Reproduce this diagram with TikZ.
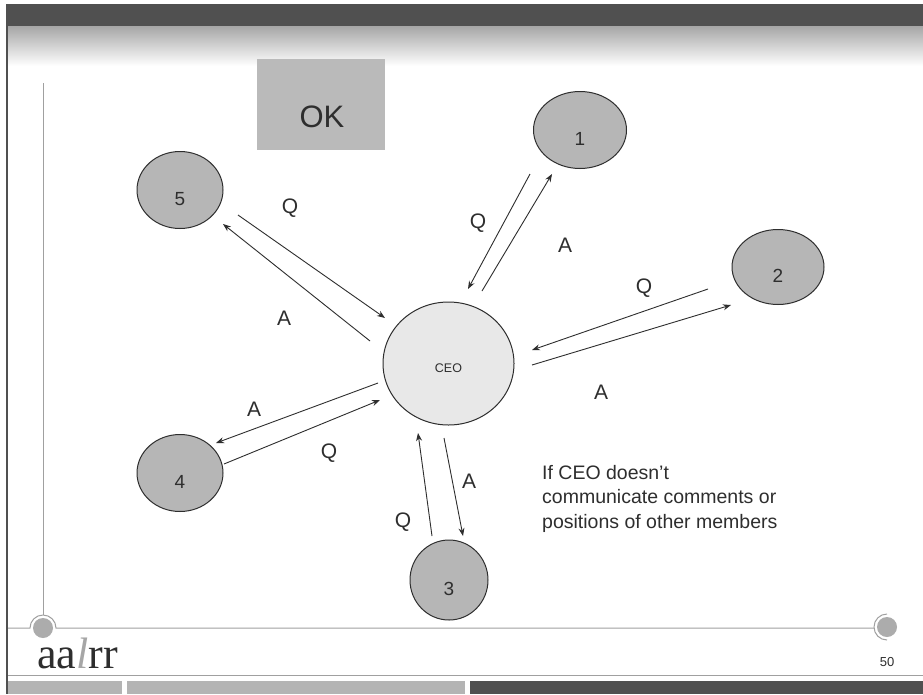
\documentclass[tikz,border=0pt]{standalone}
\usepackage{fontspec}
\setmainfont{Liberation Sans}
\newfontfamily\logofont{Liberation Serif}
\usetikzlibrary{shapes.geometric,arrows.meta}
\definecolor{banddark}{HTML}{505050}
\definecolor{bandlight}{HTML}{B4B4B4}
\definecolor{membfill}{HTML}{B6B6B6}
\definecolor{ceofill}{HTML}{E8E8E8}
\definecolor{okfill}{HTML}{BABABA}
\definecolor{inkc}{HTML}{2E2E2E}
\definecolor{decoline}{HTML}{A0A0A0}
\begin{document}
\begin{tikzpicture}[x=1pt,y=-1pt,
  member/.style={ellipse,draw=inkc,line width=1pt,fill=membfill,inner sep=0pt},
  ceo/.style={ellipse,draw=inkc,line width=1pt,fill=ceofill,inner sep=0pt},
  numtxt/.style={font=\fontsize{19}{21}\selectfont,text=inkc,inner sep=0pt},
  qa/.style={font=\fontsize{21}{24}\selectfont,text=inkc,inner sep=0pt},
  conn/.style={draw=inkc,line width=0.9pt,-{Stealth[length=8pt,width=6pt]}},
  deco/.style={draw=decoline,line width=1pt},
]
\useasboundingbox (0,0) rectangle (923,694);
\fill[white] (0,0) rectangle (923,694);
% top band
\fill[banddark] (6,4) rectangle (923,26);
\shade[top color=gray!70,bottom color=white] (8,26) rectangle (923,66);
% left border
\draw[banddark,line width=2.5pt] (7,4) -- (7,694);
% decorative lines
\coordinate (fcl) at (43,628);
\coordinate (fcr) at (887,627);
\draw[deco] (43,83) -- (43,615);
\draw[deco] (8,628) -- (30,628) arc[start angle=180,end angle=360,radius=13] -- (874,628);
\draw[deco] (887,614) arc[start angle=270,end angle=90,radius=13];
\fill[gray!65] (fcl) circle (10);
\fill[gray!65] (fcr) circle (10);
\draw[decoline,line width=0.8pt] (8,675) -- (923,675);
% bottom band
\fill[bandlight] (8,681) rectangle (122,694);
\fill[bandlight] (127,681) rectangle (465,694);
\fill[banddark] (470,681) rectangle (923,694);
% logo and page number
\node[anchor=base west,inner sep=0pt,text=inkc,font=\logofont\fontsize{44}{48}\selectfont] (logo) at (37,668) {aa{\color{gray!70}\itshape l}rr};
\node[anchor=base,inner sep=0pt,text=inkc,font=\fontsize{13}{15}\selectfont] (pnum) at (887,666) {50};
% OK box
\node[fill=okfill,minimum width=128pt,minimum height=91pt,inner sep=0pt] (ok) at (321,104.5) {};
\node[inner sep=0pt,text=inkc,font=\fontsize{31}{34}\selectfont] (oktxt) at (322,117) {OK};
% nodes
\node[ceo,minimum width=131pt,minimum height=123pt] (ceo) at (448.5,363.5) {};
\node[inner sep=0pt,text=inkc,font=\fontsize{12.5}{14}\selectfont] at ([yshift=-4.5pt]ceo.center) {CEO};
\node[member,minimum width=93pt,minimum height=77pt] (n1) at (580,130) {};
\node[member,minimum width=92pt,minimum height=75pt] (n2) at (778,267) {};
\node[member,minimum width=78pt,minimum height=80pt] (n3) at (449,580) {};
\node[member,minimum width=86pt,minimum height=77pt] (n4) at (180,473) {};
\node[member,minimum width=86pt,minimum height=77pt] (n5) at (180,190) {};
\foreach \n in {1,...,5}{\node[numtxt] at ([yshift=-9pt]n\n.center) {\n};}
% endpoints
\coordinate (q1s) at (530,174); \coordinate (q1e) at (468,289);
\coordinate (a1s) at (482,291); \coordinate (a1e) at (552,174);
\coordinate (q2s) at (708,289); \coordinate (q2e) at (532,350);
\coordinate (a2s) at (532,365); \coordinate (a2e) at (731,305);
\coordinate (q3s) at (432,536); \coordinate (q3e) at (418,433);
\coordinate (a3s) at (444,438); \coordinate (a3e) at (463,536);
\coordinate (a4s) at (378,383); \coordinate (a4e) at (216,443);
\coordinate (q4s) at (224,464); \coordinate (q4e) at (380,400);
\coordinate (q5s) at (238,215); \coordinate (q5e) at (385,318);
\coordinate (a5s) at (370,341); \coordinate (a5e) at (223,224);
\foreach \c in {q1,a1,q2,a2,q3,a3,q4,a4,q5,a5}{\draw[conn] (\c s) -- (\c e);}
% labels
\node[qa] at (478,223) {Q}; \node[qa] at (565,245) {A};
\node[qa] at (644,288) {Q}; \node[qa] at (601,392) {A};
\node[qa] at (403,522) {Q}; \node[qa] at (469,481) {A};
\node[qa] at (254,409) {A}; \node[qa] at (329,453) {Q};
\node[qa] at (290,208) {Q}; \node[qa] at (284,318) {A};
% note
\node[anchor=north west,inner sep=0pt,align=left,text=inkc,font=\fontsize{19.5}{24.5}\selectfont] (note) at (542,465) {If CEO doesn’t\\communicate comments or\\positions of other members};
\end{tikzpicture}
\end{document}
